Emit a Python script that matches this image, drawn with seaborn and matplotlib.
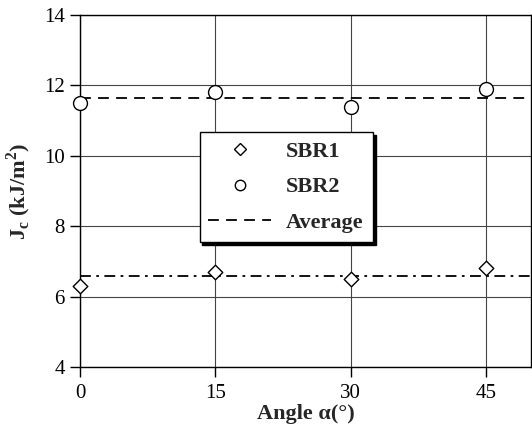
import pandas as pd
import matplotlib.pyplot as plt
import seaborn as sns
from matplotlib.lines import Line2D

# Dados
angulos = [0, 15, 30, 45]
sbr1 = [6.3, 6.7, 6.5, 6.8]
sbr2 = [11.5, 11.8, 11.4, 11.9]

df = pd.DataFrame({
    "Angle": angulos * 2,
    "Jc": sbr1 + sbr2,
    "Serie": ["SBR1"] * 4 + ["SBR2"] * 4,
})
media1 = sum(sbr1) / len(sbr1)
media2 = sum(sbr2) / len(sbr2)

sns.set_style("white")
plt.rcParams['font.family'] = ['Liberation Serif', 'DejaVu Serif']
plt.rcParams['mathtext.fontset'] = 'custom'
plt.rcParams['mathtext.rm'] = 'Liberation Serif'
plt.rcParams['mathtext.bf'] = 'Liberation Serif:bold'

fig = plt.figure(figsize=(5.32, 4.32), dpi=100)
ax = fig.add_axes([0.1504, 0.1505, 0.848, 0.8148])

ax.axhline(media2, color='black', linestyle=(0, (6, 4)), linewidth=1.3, zorder=2)
ax.axhline(media1, color='black', linestyle=(0, (6, 3, 1.5, 3)), linewidth=1.3, zorder=2)

sns.scatterplot(data=df[df.Serie == "SBR1"], x="Angle", y="Jc", marker='D', s=55,
                color='white', edgecolor='black', linewidth=1, ax=ax, zorder=3,
                clip_on=False, legend=False)
sns.scatterplot(data=df[df.Serie == "SBR2"], x="Angle", y="Jc", marker='o', s=100,
                color='white', edgecolor='black', linewidth=1, ax=ax, zorder=3,
                clip_on=False, legend=False)

ax.set_xlim(0, 50)
ax.set_ylim(4, 14)
ax.set_xticks([0, 15, 30, 45])
ax.set_yticks(range(4, 15, 2))
ax.grid(True, color='#444444', linewidth=0.8)
ax.set_axisbelow(True)
for s in ax.spines.values():
    s.set_color('black')
    s.set_linewidth(1)
ax.tick_params(axis='both', direction='out', length=7, width=1, colors='black',
               labelsize=15, left=True, bottom=True)
ax.tick_params(axis='x', pad=5)
ax.tick_params(axis='y', pad=4)

ax.set_xlabel("Angle α(°)", fontsize=16, fontweight='bold', labelpad=1)
ax.set_ylabel(r"J$_\mathbf{c}$ (kJ/m$^\mathbf{2}$)", fontsize=16, fontweight='bold', labelpad=8)

handles = [
    Line2D([], [], linestyle='none', marker='D', markersize=6, markerfacecolor='white',
           markeredgecolor='black'),
    Line2D([], [], linestyle='none', marker='o', markersize=7.5, markerfacecolor='white',
           markeredgecolor='black'),
    Line2D([], [], color='black', linestyle=(0, (6, 4)), linewidth=1.3),
]
leg = ax.legend(handles, ["SBR1", "SBR2", "Average"], loc='center',
                bbox_to_anchor=(0.457, 0.511), frameon=True, fancybox=False,
                shadow={'color': 'black', 'alpha': 1, 'ox': 2, 'oy': -2}, edgecolor='black',
                framealpha=1, prop={'weight': 'bold', 'size': 16},
                handlelength=2.8, borderpad=0.4, labelspacing=0.68, handletextpad=0.7,
                borderaxespad=0)
leg.get_frame().set_linewidth(1)
leg._legend_box.sep = 4

fig.savefig("out.png", dpi=100)
